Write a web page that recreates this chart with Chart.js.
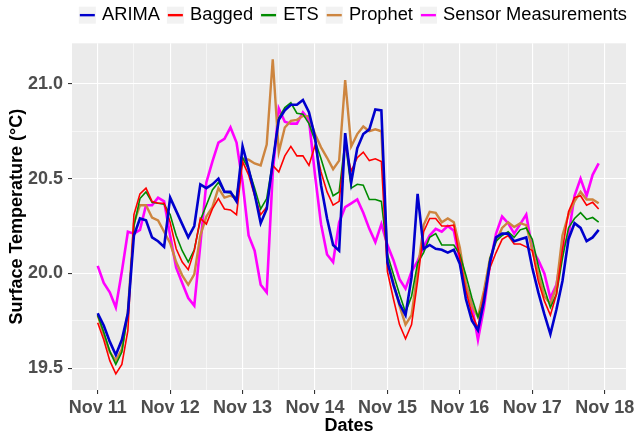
<!DOCTYPE html>
<html>
<head>
<meta charset="utf-8">
<script src="https://cdn.jsdelivr.net/npm/chart.js@4.4.1/dist/chart.umd.min.js"></script>
<style>
  html, body { margin: 0; padding: 0; background: #ffffff; }
  #wrap { width: 634px; height: 436px; }
</style>
</head>
<body>
<div id="wrap"><canvas id="tempChart"></canvas></div>
<script>
// --- datos: una lectura cada 2 horas desde el 11 de noviembre 00:00 ---
const stepDays = 1 / 12;
const dayLabels = ['Nov 11', 'Nov 12', 'Nov 13', 'Nov 14', 'Nov 15', 'Nov 16', 'Nov 17', 'Nov 18'];
const yTicks = [19.5, 19.75, 20.0, 20.25, 20.5, 20.75, 21.0];
const seriesNames = ['ARIMA', 'Bagged', 'ETS', 'Prophet', 'Sensor Measurements'];

const arima = [
  19.79, 19.725, 19.64, 19.57, 19.65, 19.79, 20.20, 20.29, 20.28, 20.19,
  20.17, 20.14, 20.40, 20.33, 20.26, 20.19, 20.25, 20.47, 20.45, 20.47,
  20.50, 20.43, 20.43, 20.38, 20.67, 20.55, 20.42, 20.265, 20.34, 20.59,
  20.81, 20.86, 20.89, 20.89, 20.915, 20.85, 20.72, 20.465, 20.29, 20.15,
  20.12, 20.74, 20.48, 20.66, 20.735, 20.76, 20.865, 20.86, 20.06, 19.94,
  19.84, 19.78, 19.98, 20.42, 20.13, 20.15, 20.13, 20.125, 20.11, 20.125,
  20.05, 19.865, 19.75, 19.70, 19.855, 20.06, 20.19, 20.21, 20.21, 20.17,
  20.18, 20.19, 20.03, 19.90, 19.785, 19.68, 19.81, 19.96, 20.18, 20.265,
  20.24, 20.17, 20.19, 20.23
];
const bagged = [
  19.74, 19.65, 19.54, 19.47, 19.52, 19.70, 20.31, 20.42, 20.45, 20.38,
  20.37, 20.37, 20.27, 20.13, 20.06, 20.02, 20.12, 20.29, 20.26, 20.34,
  20.395, 20.34, 20.335, 20.31, 20.59, 20.52, 20.41, 20.31, 20.35, 20.57,
  20.535, 20.62, 20.67, 20.62, 20.62, 20.57, 20.675, 20.535, 20.43, 20.36,
  20.38, 20.68, 20.54, 20.61, 20.64, 20.595, 20.605, 20.59, 20.01, 19.865,
  19.73, 19.655, 19.73, 19.96, 20.22, 20.29, 20.29, 20.25, 20.25, 20.255,
  20.08, 19.91, 19.785, 19.71, 19.89, 20.03, 20.11, 20.18, 20.20, 20.155,
  20.155, 20.14, 20.12, 19.96, 19.855, 19.78, 19.89, 20.125, 20.325, 20.40,
  20.41, 20.36, 20.375, 20.34
];
const ets = [
  19.78, 19.69, 19.59, 19.52, 19.585, 19.79, 20.25, 20.395, 20.43, 20.375,
  20.37, 20.365, 20.31, 20.20, 20.12, 20.06, 20.125, 20.28, 20.36, 20.44,
  20.48, 20.43, 20.425, 20.395, 20.61, 20.55, 20.45, 20.34, 20.395, 20.59,
  20.82, 20.875, 20.90, 20.845, 20.84, 20.79, 20.70, 20.605, 20.50, 20.41,
  20.43, 20.70, 20.45, 20.47, 20.465, 20.39, 20.39, 20.38, 20.10, 19.995,
  19.89, 19.795, 19.88, 20.055, 20.11, 20.19, 20.21, 20.15, 20.15, 20.15,
  20.10, 19.99, 19.87, 19.77, 19.855, 20.08, 20.17, 20.20, 20.22, 20.19,
  20.23, 20.24, 20.18, 20.04, 19.92, 19.82, 19.89, 20.08, 20.24, 20.29,
  20.32, 20.285, 20.295, 20.27
];
const prophet = [
  19.78, 19.68, 19.585, 19.54, 19.60, 19.80, 20.265, 20.36, 20.36, 20.295,
  20.28, 20.22, 20.16, 20.06, 19.99, 19.94, 19.995, 20.20, 20.30, 20.35,
  20.45, 20.40, 20.41, 20.395, 20.605, 20.60, 20.58, 20.57, 20.68, 21.13,
  20.64, 20.77, 20.805, 20.81, 20.83, 20.83, 20.735, 20.665, 20.61, 20.55,
  20.595, 21.02, 20.67, 20.735, 20.775, 20.75, 20.76, 20.75, 20.065, 19.95,
  19.83, 19.73, 19.78, 20.01, 20.255, 20.325, 20.32, 20.27, 20.29, 20.27,
  20.135, 19.94, 19.83, 19.77, 19.91, 20.08, 20.17, 20.24, 20.27, 20.245,
  20.265, 20.255, 20.125, 20.00, 19.88, 19.84, 19.93, 20.20, 20.31, 20.38,
  20.43, 20.39, 20.39, 20.37
];
const sensor = [
  20.04, 19.95, 19.90, 19.82, 20.01, 20.22, 20.21, 20.23, 20.36, 20.36,
  20.40, 20.38, 20.20, 20.03, 19.95, 19.87, 19.83, 20.15, 20.48, 20.59,
  20.69, 20.71, 20.77, 20.69, 20.48, 20.20, 20.12, 19.94, 19.90, 20.53,
  20.87, 20.80, 20.79, 20.79, 20.85, 20.81, 20.52, 20.26, 20.10, 20.06,
  20.27, 20.35, 20.37, 20.39, 20.32, 20.235, 20.165, 20.26, 20.15, 20.07,
  19.97, 19.92, 20.01, 20.065, 20.14, 20.20, 20.235, 20.22, 20.25, 20.225,
  20.065, 19.94, 19.83, 19.65, 19.82, 20.05, 20.21, 20.30, 20.265, 20.21,
  20.26, 20.31, 20.125, 20.07, 20.00, 19.87, 19.94, 20.125, 20.20, 20.41,
  20.50, 20.41, 20.52, 20.58
];

const seriesValues = [arima, bagged, ets, prophet, sensor];
const seriesColors = ['#0000CD', '#FF0000', '#008B00', '#CD853F', '#FF00FF'];
const seriesWidths = [2.6, 1.6, 1.6, 2.4, 2.6];

const fontFamily = "'Liberation Sans', Arial, sans-serif";
const isMajor = (v, step) => Math.abs(v / step - Math.round(v / step)) < 1e-6;

// --- fondo gris del panel (estilo ggplot) ---
const panelBg = {
  id: 'panelBg',
  beforeDraw(chart) {
    const { ctx, chartArea: a } = chart;
    ctx.save();
    ctx.fillStyle = '#EBEBEB';
    ctx.fillRect(a.left, a.top, a.right - a.left, a.bottom - a.top);
    ctx.restore();
  }
};

// --- coloca la leyenda arriba a la derecha ---
const legendPlacer = {
  id: 'legendPlacer',
  afterLayout(chart) {
    const lg = chart.legend;
    lg.left = 0;
    lg.right = chart.width;
    lg.width = chart.width;
    lg.top = -1;
    lg.bottom = lg.top + lg.height;
  }
};

// --- claves de la leyenda: cuadro gris con una línea ---
const legendKeys = {
  id: 'legendKeys',
  afterDraw(chart) {
    const lg = chart.legend;
    const ctx = chart.ctx;
    ctx.save();
    lg.legendHitBoxes.forEach((box, i) => {
      const ds = chart.data.datasets[lg.legendItems[i].datasetIndex];
      const cy = box.top + box.height / 2;
      ctx.fillStyle = '#F2F2F2';
      ctx.fillRect(box.left, cy - 8.5, 17, 17);
      ctx.strokeStyle = ds.borderColor;
      ctx.lineWidth = 2.4;
      ctx.beginPath();
      ctx.moveTo(box.left + 1, cy);
      ctx.lineTo(box.left + 16, cy);
      ctx.stroke();
    });
    ctx.restore();
  }
};

const ctx = document.getElementById('tempChart').getContext('2d');
new Chart(ctx, {
  type: 'line',
  data: {
    datasets: seriesNames.map((name, s) => ({
      label: name,
      data: seriesValues[s].map((v, i) => ({ x: i * stepDays, y: v })),
      borderColor: seriesColors[s],
      backgroundColor: seriesColors[s],
      borderWidth: seriesWidths[s],
      pointRadius: 0,
      tension: 0,
      fill: false
    }))
  },
  options: {
    responsive: true,
    maintainAspectRatio: false,
    animation: false,
    devicePixelRatio: 1,
    layout: { padding: { top: 8, right: 8, bottom: 0, left: 0 } },
    plugins: {
      tooltip: { enabled: false },
      legend: {
        position: 'top',
        align: 'end',
        labels: {
          boxWidth: 14,
          boxHeight: 17,
          padding: 7,
          color: '#000000',
          font: { family: fontFamily, size: 18.3 },
          generateLabels(chart) {
            const items = Chart.defaults.plugins.legend.labels.generateLabels(chart);
            items.forEach(it => {
              it.fillStyle = 'rgba(0,0,0,0)';
              it.strokeStyle = 'rgba(0,0,0,0)';
              it.lineWidth = 0;
            });
            return items;
          }
        }
      }
    },
    scales: {
      x: {
        type: 'linear',
        min: -0.355,
        max: 7.294,
        afterBuildTicks(scale) {
          const ticks = [];
          dayLabels.forEach((lab, i) => {
            ticks.push({ value: i });
            if (i < dayLabels.length - 1) ticks.push({ value: i + 0.5 });
          });
          scale.ticks = ticks;
        },
        afterFit(scale) {
          scale.height = 46;
          scale.paddingLeft = 0;
          scale.paddingRight = 0;
        },
        ticks: {
          autoSkip: false,
          maxRotation: 0,
          padding: 3,
          color: '#4D4D4D',
          font: { family: fontFamily, size: 18, weight: 'bold' },
          callback: (v) => isMajor(v, 1) ? dayLabels[Math.round(v)] : ''
        },
        grid: {
          color: '#FFFFFF',
          lineWidth: (c) => isMajor(c.tick.value, 1) ? 1.1 : 0.55,
          tickLength: 4,
          tickColor: (c) => isMajor(c.tick.value, 1) ? '#333333' : 'rgba(0,0,0,0)',
          tickWidth: 1.1
        },
        border: { display: false },
        title: {
          display: true,
          text: 'Dates',
          color: '#000000',
          padding: { top: 0, bottom: -1 },
          font: { family: fontFamily, size: 18, weight: 'bold' }
        }
      },
      y: {
        min: 19.385,
        max: 21.214,
        afterBuildTicks(scale) {
          scale.ticks = yTicks.map(v => ({ value: v }));
        },
        afterFit(scale) {
          scale.width = 72;
        },
        ticks: {
          padding: 5,
          color: '#4D4D4D',
          font: { family: fontFamily, size: 18, weight: 'bold' },
          callback: (v) => isMajor(v, 0.5) ? v.toFixed(1) : ''
        },
        grid: {
          color: '#FFFFFF',
          lineWidth: (c) => isMajor(c.tick.value, 0.5) ? 1.1 : 0.55,
          tickLength: 4,
          tickColor: (c) => isMajor(c.tick.value, 0.5) ? '#333333' : 'rgba(0,0,0,0)',
          tickWidth: 1.1
        },
        border: { display: false },
        title: {
          display: true,
          text: 'Surface Temperature (°C)',
          color: '#000000',
          padding: { top: 6, bottom: 0 },
          font: { family: fontFamily, size: 18, weight: 'bold' }
        }
      }
    }
  },
  plugins: [panelBg, legendPlacer, legendKeys]
});
</script>
</body>
</html>
